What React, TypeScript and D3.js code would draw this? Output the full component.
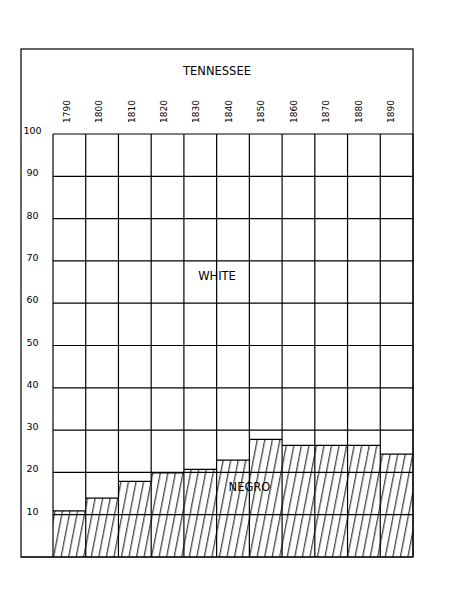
import * as d3 from 'd3';

// census years and share of negro population (percent)
const years = ['1790', '1800', '1810', '1820', '1830', '1840', '1850', '1860', '1870', '1880', '1890'];
const negroShare = [10.9, 13.9, 17.9, 19.9, 20.7, 22.9, 27.8, 26.4, 26.4, 26.4, 24.3];
const yTicks = [10, 20, 30, 40, 50, 60, 70, 80, 90, 100];
const title = 'TENNESSEE';

const W = 451;
const H = 596;
const frame = { left: 21, top: 49, right: 413, bottom: 557 };
const plot = { left: 53, right: 413, top: 134, bottom: 557 };
const font = '"DejaVu Sans", sans-serif';

const App = () => {
  const x = d3.scaleBand<string>().domain(years).range([plot.left, plot.right]).paddingInner(0);
  const y = d3.scaleLinear().domain([0, 100]).range([plot.bottom, plot.top]);
  // year labels sit a little left of the column centres
  const labelX = d3.scalePoint<string>().domain(years).range([66.5, 391]);

  return (
    <svg
      width={W}
      height={H}
      style={{ position: 'absolute', left: 0, top: 0, background: '#fff' }}
    >
      <defs>
        <pattern
          id="hatch"
          patternUnits="userSpaceOnUse"
          width={7.4}
          height={10}
          patternTransform="rotate(11)"
        >
          <line x1={3.5} y1={-1} x2={3.5} y2={11} stroke="#111" strokeWidth={1} />
        </pattern>
      </defs>

      {/* outer frame */}
      <rect
        x={frame.left}
        y={frame.top}
        width={frame.right - frame.left}
        height={frame.bottom - frame.top}
        fill="none"
        stroke="#000"
        strokeWidth={1.2}
      />

      <text x={217} y={75} textAnchor="middle" fontFamily={font} fontSize={11.5} fill="#000">
        {title}
      </text>

      {/* year labels */}
      {years.map((yr) => (
        <text
          key={yr}
          transform={`translate(${labelX(yr)},123) rotate(-90)`}
          dy="0.35em"
          textAnchor="start"
          fontFamily={font}
          fontSize={9}
          fill="#000"
        >
          {yr}
        </text>
      ))}

      {/* negro bars */}
      {years.map((yr, i) => (
        <rect
          key={yr}
          x={x(yr)}
          y={y(negroShare[i])}
          width={x.bandwidth()}
          height={y(0) - y(negroShare[i])}
          fill="url(#hatch)"
        />
      ))}
      {years.map((yr, i) => (
        <line
          key={yr}
          x1={x(yr)}
          x2={(x(yr) || 0) + x.bandwidth()}
          y1={y(negroShare[i])}
          y2={y(negroShare[i])}
          stroke="#000"
          strokeWidth={1.2}
        />
      ))}

      {/* grid */}
      {yTicks.map((t) => (
        <line
          key={t}
          x1={plot.left}
          x2={plot.right}
          y1={y(t)}
          y2={y(t)}
          stroke="#000"
          strokeWidth={1.2}
        />
      ))}
      {years.map((yr) => (
        <line
          key={yr}
          x1={x(yr)}
          x2={x(yr)}
          y1={y(100)}
          y2={y(0)}
          stroke="#000"
          strokeWidth={1.2}
        />
      ))}
      <line x1={plot.right} x2={plot.right} y1={y(100)} y2={y(0)} stroke="#000" strokeWidth={1.2} />
      <line x1={frame.left} x2={plot.right} y1={y(0)} y2={y(0)} stroke="#000" strokeWidth={1.2} />

      {/* y tick labels */}
      {yTicks.map((t) => (
        <text
          key={t}
          x={32.5}
          y={y(t)}
          textAnchor="middle"
          fontFamily={font}
          fontSize={9.5}
          fill="#000"
        >
          {t}
        </text>
      ))}

      <text x={217} y={280} textAnchor="middle" fontFamily={font} fontSize={11.5} fill="#000">
        WHITE
      </text>
      <text x={249.5} y={491} textAnchor="middle" fontFamily={font} fontSize={11.5} fill="#000">
        NEGRO
      </text>
    </svg>
  );
};

export default App;
